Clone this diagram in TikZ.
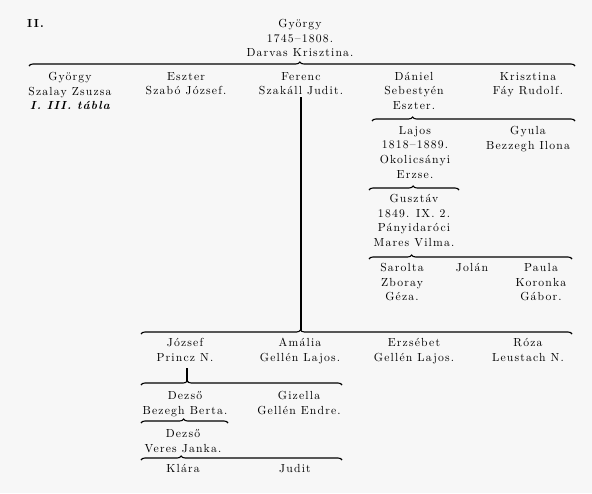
\documentclass[tikz,border=0pt]{standalone}
\usepackage{fontspec}
\setmainfont{lmroman10-regular.otf}[
  BoldFont       = lmroman10-bold.otf,
  ItalicFont     = lmroman10-italic.otf,
  BoldItalicFont = lmroman10-bolditalic.otf,
  LetterSpace    = 10]
\usetikzlibrary{decorations.pathreplacing, calc}
\tikzset{
  pers/.style  = {font=\fontsize{11.7}{14.7}\selectfont,
                  align=center, inner sep=0pt, anchor=north},
  brc/.style   = {decorate, decoration={brace, amplitude=4pt, aspect=#1},
                  line width=1.1pt},
  stem/.style  = {line width=1.8pt},
}

\begin{document}
\begin{tikzpicture}[x=1pt, y=-1pt]
\fill[black!3] (0,0) rectangle (592,493);
\useasboundingbox (0,0) rectangle (592,493);
% table number and head of the family
\node[pers, anchor=north west, font=\fontsize{11.7}{14.7}\selectfont\bfseries] (tabno) at (27,18.9) {II.};
\node[pers] (gyorgy) at (300,18.9) {György\\1745--1808.\\Darvas Krisztina.};
\coordinate (b1l) at (29,66); \coordinate (b1r) at (575,66);
\draw[brc=0.496] (b1l) -- (b1r);
% children
\node[pers] (gyorgyjr) at (70,71.9) {György\\Szalay Zsuzsa\\{\bfseries\itshape I. III. tábla}};
\node[pers] (eszter) at (186,71.9) {Eszter\\Szabó József.};
\node[pers] (ferenc) at (301,71.9) {Ferenc\\Szakáll Judit.};
\node[pers] (daniel) at (414,71.9) {Dániel\\Sebestyén\\Eszter.};
\node[pers] (krisztina) at (528,71.9) {Krisztina\\Fáy Rudolf.};
% Dániel's line
\coordinate (b2l) at (372,121); \coordinate (b2r) at (575,121);
\draw[brc=0.2] (b2l) -- (b2r);
\node[pers] (lajos) at (415,126) {Lajos\\1818--1889.\\Okolicsányi\\Erzse.};
\node[pers] (gyula) at (528,126) {Gyula\\Bezzegh Ilona};
\coordinate (b3l) at (369,190); \coordinate (b3r) at (459,190);
\draw[brc=0.49] (b3l) -- (b3r);
\node[pers] (gusztav) at (414,194) {Gusztáv\\1849. IX. 2.\\Pányidaróci\\Mares Vilma.};
\coordinate (b4l) at (369,259); \coordinate (b4r) at (572,259);
\draw[brc=0.21] (b4l) -- (b4r);
\node[pers] (sarolta) at (402,263) {Sarolta\\Zboray\\Géza.};
\node[pers] (jolan) at (472,263) {Jolán};
\node[pers] (paula) at (541,263) {Paula\\Koronka\\Gábor.};
% Ferenc's line
\coordinate (b5l) at (141,334); \coordinate (b5r) at (572,334);
\coordinate (b5tip) at (301,330);
\draw[brc=0.37] (b5l) -- (b5r);
\draw[stem] ([yshift=-2pt]ferenc.south) -- (b5tip);
\node[pers] (jozsef) at (185,338) {József\\Princz N.};
\node[pers] (amalia) at (300,338) {Amália\\Gellén Lajos.};
\node[pers] (erzsebet) at (414,338) {Erzsébet\\Gellén Lajos.};
\node[pers] (roza) at (528,338) {Róza\\Leustach N.};
\coordinate (b6l) at (141,385); \coordinate (b6r) at (342,385);
\coordinate (b6tip) at (187,381);
\draw[brc=0.23] (b6l) -- (b6r);
\draw[stem] ([yshift=-7pt]b6tip |- jozsef.south) -- (b6tip);
\node[pers] (dezso) at (185,391) {Dezső\\Bezegh Berta.};
\node[pers] (gizella) at (299,391) {Gizella\\Gellén Endre.};
\coordinate (b7l) at (141,423); \coordinate (b7r) at (228,423);
\draw[brc=0.49] (b7l) -- (b7r);
\node[pers] (dezsojr) at (183,429) {Dezső\\Veres Janka.};
\coordinate (b8l) at (141,460); \coordinate (b8r) at (342,460);
\draw[brc=0.2] (b8l) -- (b8r);
\node[pers] (klara) at (183,464) {Klára};
\node[pers] (judit) at (295,464) {Judit};
\end{tikzpicture}
\end{document}
